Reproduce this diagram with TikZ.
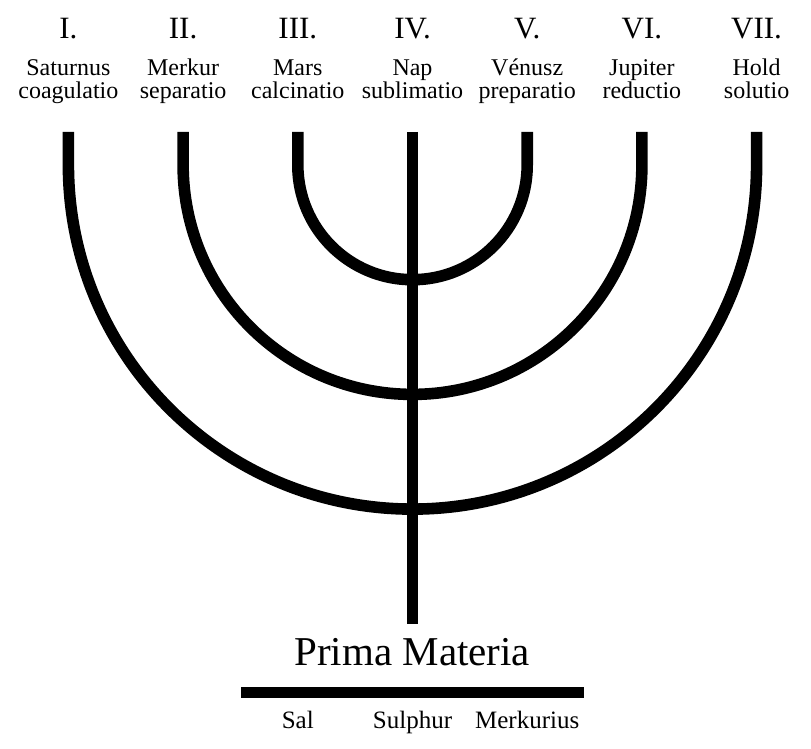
\documentclass[tikz,border=0pt]{standalone}
\usepackage{fontspec}
\setmainfont{Liberation Serif}
\usetikzlibrary{positioning}

\begin{document}
\begin{tikzpicture}[x=1pt, y=1pt,
        numeral/.style={font=\fontsize{31}{37}\selectfont, inner sep=0pt, anchor=base},
        planet/.style={font=\fontsize{24}{23}\selectfont, align=center, inner sep=0pt, anchor=base},
        arm/.style={line width=11.6pt, line cap=butt},
        root/.style={font=\fontsize{25}{30}\selectfont, inner sep=0pt, anchor=base}
    ]
        \useasboundingbox (0,0) rectangle (811,-749);

        % Római számok
        \node[numeral] (n1) at (68.4,-39) {I.};
        \node[numeral] (n2) at (183.1,-39) {II.};
        \node[numeral] (n3) at (297.8,-39) {III.};
        \node[numeral] (n4) at (412.5,-39) {IV.};
        \node[numeral] (n5) at (527.2,-39) {V.};
        \node[numeral] (n6) at (641.9,-39) {VI.};
        \node[numeral] (n7) at (756.6,-39) {VII.};

        % Bolygók és műveletek (alapvonal: második sor)
        \node[planet] (p1) at (68.4,-99) {Saturnus\\coagulatio};
        \node[planet] (p2) at (183.1,-99) {Merkur\\separatio};
        \node[planet] (p3) at (297.8,-99) {Mars\\calcinatio};
        \node[planet] (p4) at (412.5,-99) {Nap\\sublimatio};
        \node[planet] (p5) at (527.2,-99) {Vénusz\\preparatio};
        \node[planet] (p6) at (641.9,-99) {Jupiter\\reductio};
        \node[planet] (p7) at (756.6,-99) {Hold\\solutio};

        % Karok csúcsai
        \coordinate (t1) at (68.4,-132);
        \coordinate (t2) at (183.1,-132);
        \coordinate (t3) at (297.8,-132);
        \coordinate (t4) at (412.5,-132);
        \coordinate (t5) at (527.2,-132);
        \coordinate (t6) at (641.9,-132);
        \coordinate (t7) at (756.6,-132);
        \coordinate (foot) at (412.5,-624);

        % Karok és törzs
        \draw[arm] (t3) -- ++(0,-33) arc (180:360:114.7) -- (t5);
        \draw[arm] (t2) -- ++(0,-33) arc (180:360:229.4) -- (t6);
        \draw[arm] (t1) -- ++(0,-33) arc (180:360:344.1) -- (t7);
        \draw[arm] (t4) -- (foot);

        % Talapzat
        \node[font=\fontsize{41}{49}\selectfont, inner sep=0pt, anchor=base] (prima) at (412.3,-665) {Prima Materia};
        \fill (241,-687) rectangle (584,-698);
        \node[root] (sal) at (297.8,-728) {Sal};
        \node[root] (sulphur) at (412.5,-728) {Sulphur};
        \node[root] (merkurius) at (527.2,-728) {Merkurius};

    \end{tikzpicture}
\end{document}
